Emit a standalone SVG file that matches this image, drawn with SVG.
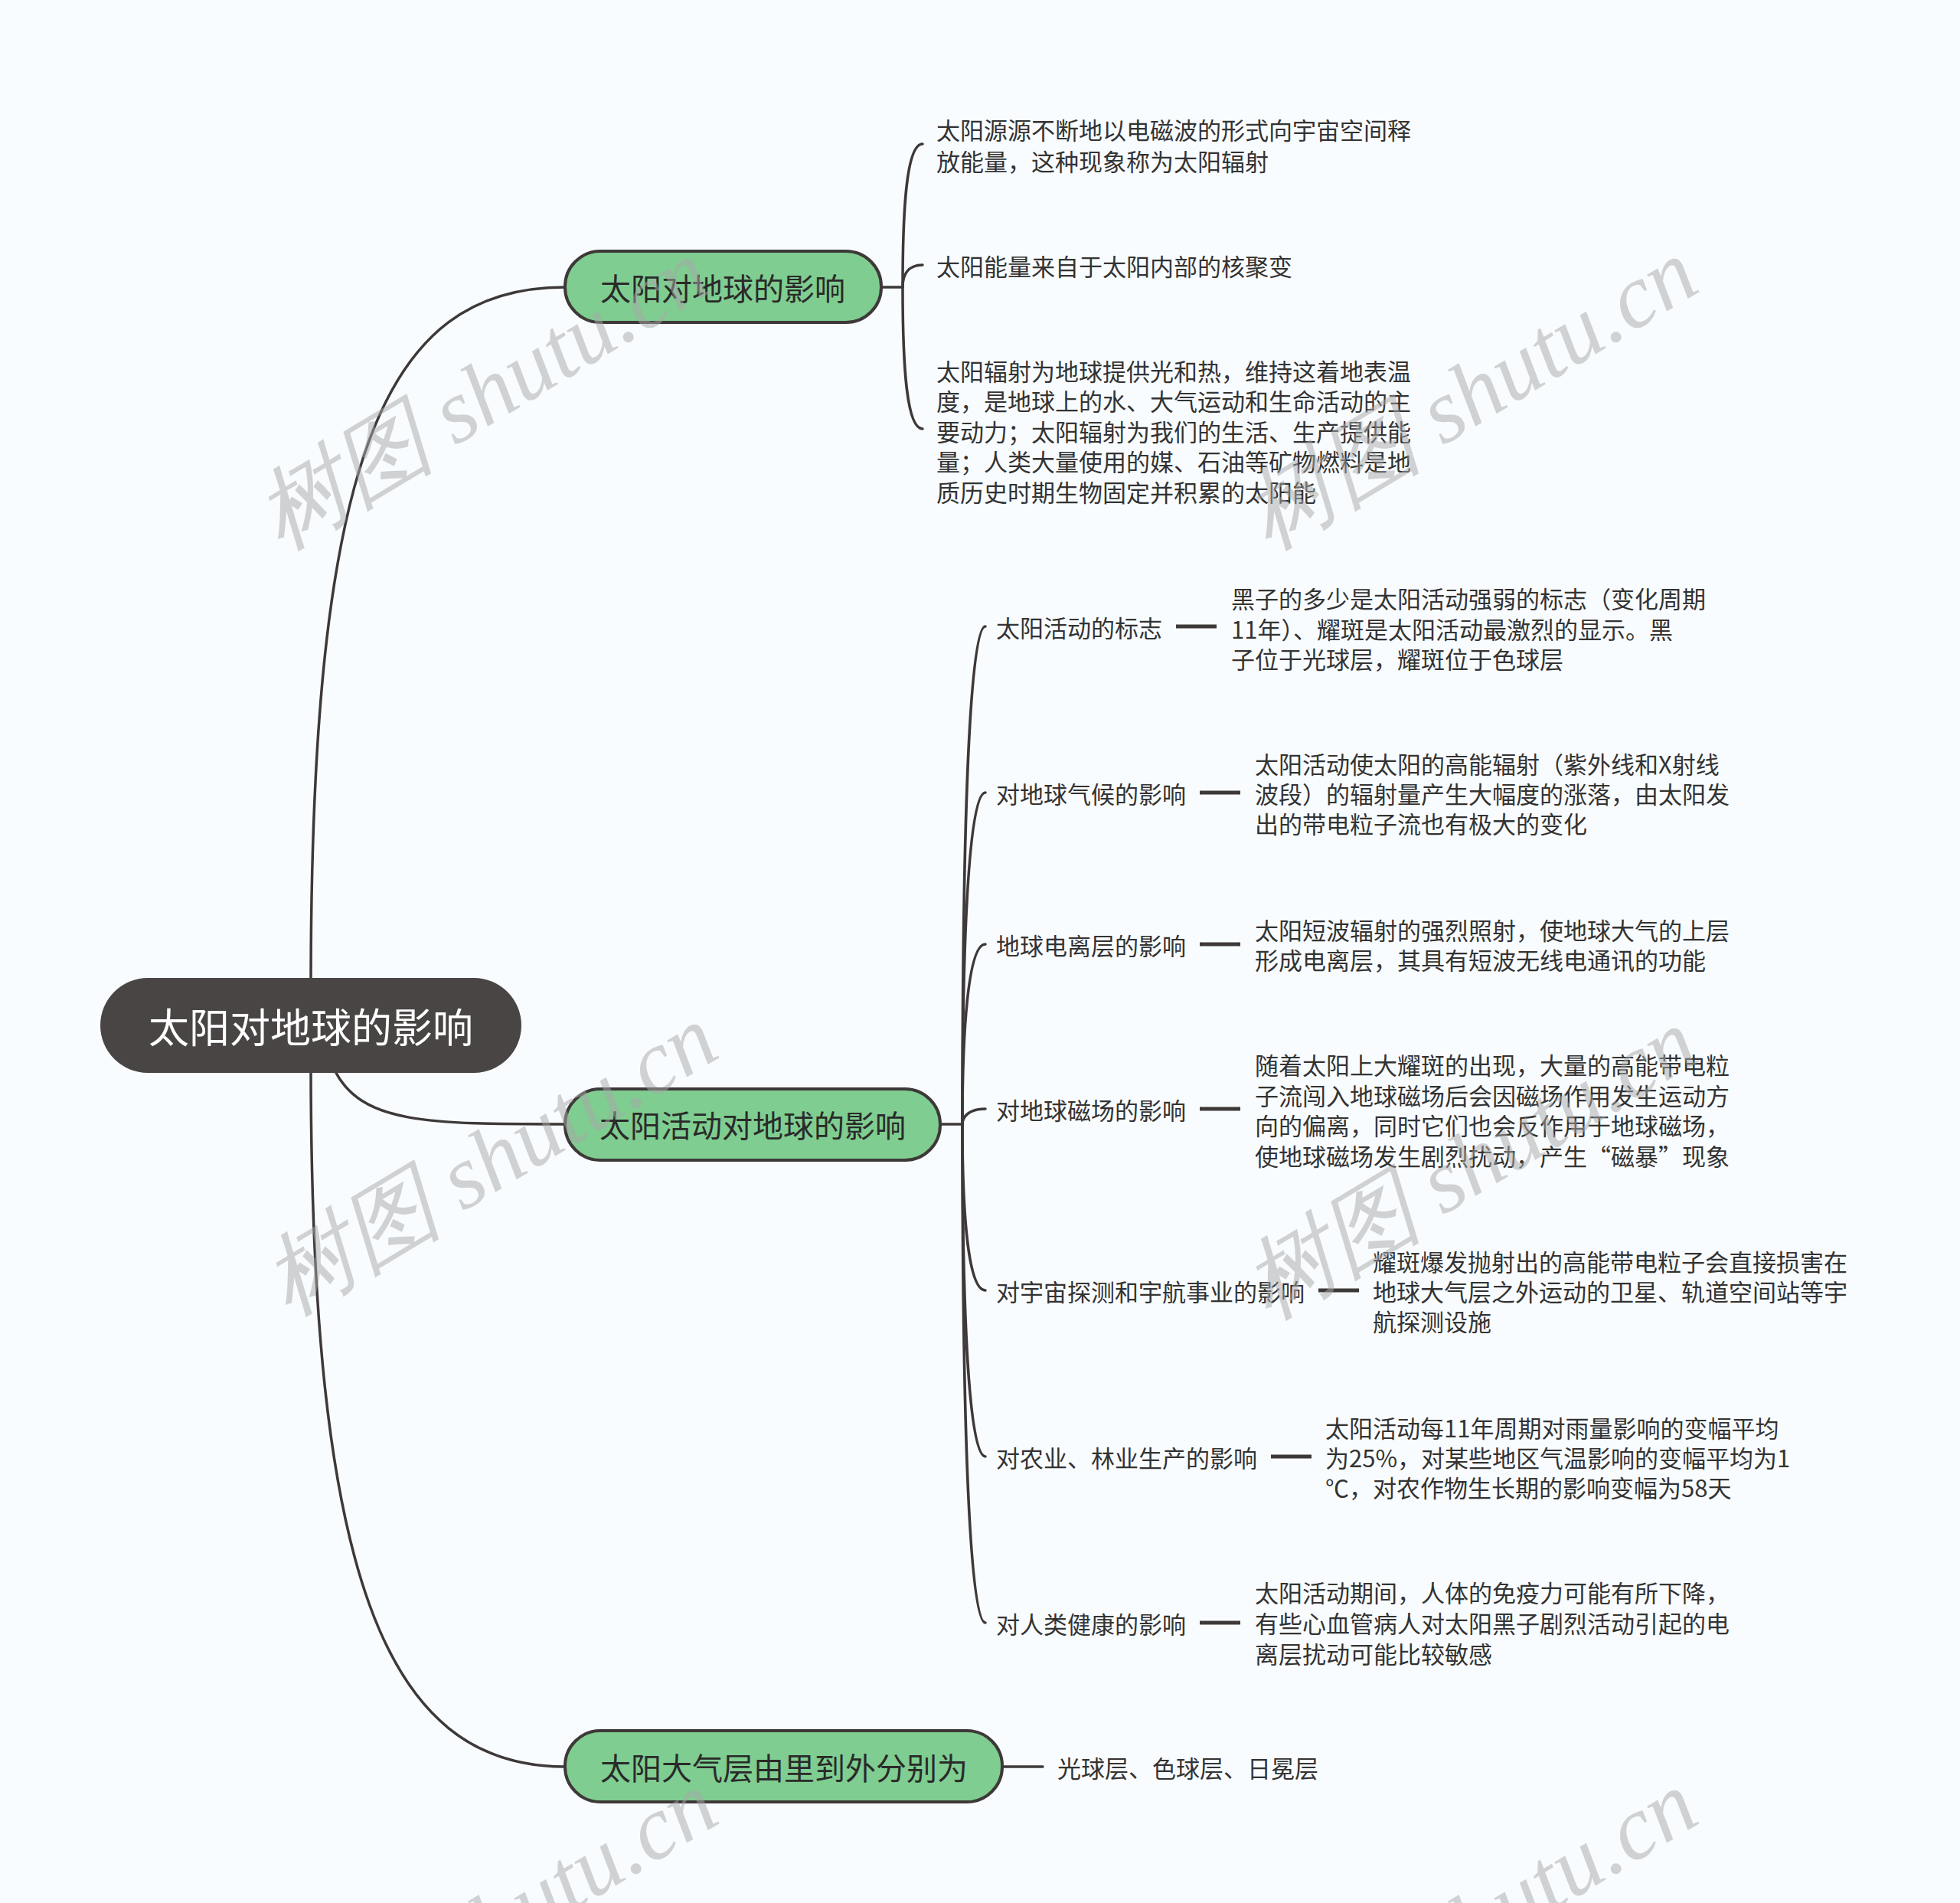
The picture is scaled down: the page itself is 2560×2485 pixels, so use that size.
<svg xmlns="http://www.w3.org/2000/svg" width="2560" height="2485" viewBox="0 0 2560 2485">
<style>
.bg{fill:#f9fcfe}
.ln{fill:none;stroke:#3e3939;stroke-width:3.5;stroke-linecap:round}
.dash{fill:none;stroke:#3e3939;stroke-width:5}
.root{fill:#4a4545}
.br{fill:#7fcd90;stroke:#3e3939;stroke-width:4}
.tr{font-family:"Noto Sans CJK SC","Noto Sans",sans-serif;font-size:53px;fill:#ffffff;text-anchor:middle;dominant-baseline:central}
.tb{font-family:"Noto Sans CJK SC","Noto Sans",sans-serif;font-size:40px;fill:#2a2a2a;text-anchor:middle;dominant-baseline:central}
.t{font-family:"Noto Sans CJK SC","Noto Sans",sans-serif;font-size:31px;fill:#333333;dominant-baseline:central}
.wm{font-family:"Liberation Serif",serif;font-style:italic;font-size:118px;fill:#a8a8a8;opacity:0.5;text-anchor:middle;dominant-baseline:central}
</style>
<rect class="bg" x="0" y="0" width="2560" height="2485"/>
<g id="connectors">
<path class="ln" d="M406 1290 C406 600 500 375 738 375"/>
<path class="ln" d="M436 1395 C470 1468 560 1468 738 1468"/>
<path class="ln" d="M406 1390 C406 2050 500 2307 738 2307"/>
<path class="ln" d="M1151 375 H1179"/>
<path class="ln" d="M1179 375 C1179 280 1183 188 1205 188"/>
<path class="ln" d="M1179 375 C1179 360 1185 346 1205 346"/>
<path class="ln" d="M1179 375 C1179 470 1183 560 1205 560"/>
<path class="ln" d="M1228 1468 H1257"/>
<path class="ln" d="M1257 1468 C1257 1140 1264 818 1287 818"/>
<path class="ln" d="M1257 1468 C1257 1250 1264 1035 1287 1035"/>
<path class="ln" d="M1257 1468 C1257 1350 1264 1233 1287 1233"/>
<path class="ln" d="M1257 1468 C1257 1458 1266 1448 1287 1448"/>
<path class="ln" d="M1257 1468 C1257 1580 1264 1685 1287 1685"/>
<path class="ln" d="M1257 1468 C1257 1690 1264 1902 1287 1902"/>
<path class="ln" d="M1257 1468 C1257 1800 1264 2119 1287 2119"/>
<path class="ln" d="M1309 2307 H1362"/>
<path class="dash" d="M1536 818 H1589"/>
<path class="dash" d="M1567 1035 H1620"/>
<path class="dash" d="M1567 1233 H1620"/>
<path class="dash" d="M1567 1448 H1620"/>
<path class="dash" d="M1722 1685 H1775"/>
<path class="dash" d="M1660 1902 H1713"/>
<path class="dash" d="M1567 2119 H1620"/>
</g>
<g id="root">
<rect class="root" x="131" y="1277" width="550" height="124" rx="62"/>
<text class="tr" x="406" y="1339">太阳对地球的影响</text>
</g>
<g id="b1">
<rect class="br" x="738" y="328" width="413" height="93" rx="46"/>
<text class="tb" x="944" y="375">太阳对地球的影响</text>
</g>
<g id="b2">
<rect class="br" x="738" y="1422" width="490" height="93" rx="46"/>
<text class="tb" x="983" y="1468">太阳活动对地球的影响</text>
</g>
<g id="b3">
<rect class="br" x="738" y="2260" width="571" height="93" rx="46"/>
<text class="tb" x="1024" y="2307">太阳大气层由里到外分别为</text>
</g>
<g id="b1c1">
<text class="t" x="1223" y="168">太阳源源不断地以电磁波的形式向宇宙空间释</text>
<text class="t" x="1223" y="209">放能量，这种现象称为太阳辐射</text>
</g>
<g id="b1c2">
<text class="t" x="1223" y="346">太阳能量来自于太阳内部的核聚变</text>
</g>
<g id="b1c3">
<text class="t" x="1223" y="483">太阳辐射为地球提供光和热，维持这着地表温</text>
<text class="t" x="1223" y="522">度，是地球上的水、大气运动和生命活动的主</text>
<text class="t" x="1223" y="562">要动力；太阳辐射为我们的生活、生产提供能</text>
<text class="t" x="1223" y="601">量；人类大量使用的媒、石油等矿物燃料是地</text>
<text class="t" x="1223" y="641">质历史时期生物固定并积累的太阳能</text>
</g>
<g id="b2c1">
<text class="t" x="1301" y="818">太阳活动的标志</text>
</g>
<g id="b2c1d">
<text class="t" x="1608" y="780">黑子的多少是太阳活动强弱的标志（变化周期</text>
<text class="t" x="1608" y="820">11年）、耀斑是太阳活动最激烈的显示。黑</text>
<text class="t" x="1608" y="859">子位于光球层，耀斑位于色球层</text>
</g>
<g id="b2c2">
<text class="t" x="1301" y="1035">对地球气候的影响</text>
</g>
<g id="b2c2d">
<text class="t" x="1639" y="996">太阳活动使太阳的高能辐射（紫外线和X射线</text>
<text class="t" x="1639" y="1035">波段）的辐射量产生大幅度的涨落，由太阳发</text>
<text class="t" x="1639" y="1074">出的带电粒子流也有极大的变化</text>
</g>
<g id="b2c3">
<text class="t" x="1301" y="1233">地球电离层的影响</text>
</g>
<g id="b2c3d">
<text class="t" x="1639" y="1213">太阳短波辐射的强烈照射，使地球大气的上层</text>
<text class="t" x="1639" y="1252">形成电离层，其具有短波无线电通讯的功能</text>
</g>
<g id="b2c4">
<text class="t" x="1301" y="1448">对地球磁场的影响</text>
</g>
<g id="b2c4d">
<text class="t" x="1639" y="1389">随着太阳上大耀斑的出现，大量的高能带电粒</text>
<text class="t" x="1639" y="1429">子流闯入地球磁场后会因磁场作用发生运动方</text>
<text class="t" x="1639" y="1468">向的偏离，同时它们也会反作用于地球磁场，</text>
<text class="t" x="1639" y="1508">使地球磁场发生剧烈扰动，产生“磁暴”现象</text>
</g>
<g id="b2c5">
<text class="t" x="1301" y="1685">对宇宙探测和宇航事业的影响</text>
</g>
<g id="b2c5d">
<text class="t" x="1793" y="1646">耀斑爆发抛射出的高能带电粒子会直接损害在</text>
<text class="t" x="1793" y="1685">地球大气层之外运动的卫星、轨道空间站等宇</text>
<text class="t" x="1793" y="1724">航探测设施</text>
</g>
<g id="b2c6">
<text class="t" x="1301" y="1902">对农业、林业生产的影响</text>
</g>
<g id="b2c6d">
<text class="t" x="1731" y="1863">太阳活动每11年周期对雨量影响的变幅平均</text>
<text class="t" x="1731" y="1902">为25%，对某些地区气温影响的变幅平均为1</text>
<text class="t" x="1731" y="1941">℃，对农作物生长期的影响变幅为58天</text>
</g>
<g id="b2c7">
<text class="t" x="1301" y="2119">对人类健康的影响</text>
</g>
<g id="b2c7d">
<text class="t" x="1639" y="2078">太阳活动期间，人体的免疫力可能有所下降，</text>
<text class="t" x="1639" y="2118">有些心血管病人对太阳黑子剧烈活动引起的电</text>
<text class="t" x="1639" y="2158">离层扰动可能比较敏感</text>
</g>
<g id="b3c1">
<text class="t" x="1381" y="2307">光球层、色球层、日冕层</text>
</g>
<g id="watermarks">
<text class="wm" transform="translate(630 515) rotate(-31)">树图 shutu.cn</text>
<text class="wm" transform="translate(1920 515) rotate(-31)">树图 shutu.cn</text>
<text class="wm" transform="translate(640 1515) rotate(-31)">树图 shutu.cn</text>
<text class="wm" transform="translate(1920 1520) rotate(-31)">树图 shutu.cn</text>
<text class="wm" transform="translate(640 2515) rotate(-31)">树图 shutu.cn</text>
<text class="wm" transform="translate(1920 2515) rotate(-31)">树图 shutu.cn</text>
</g>
</svg>
